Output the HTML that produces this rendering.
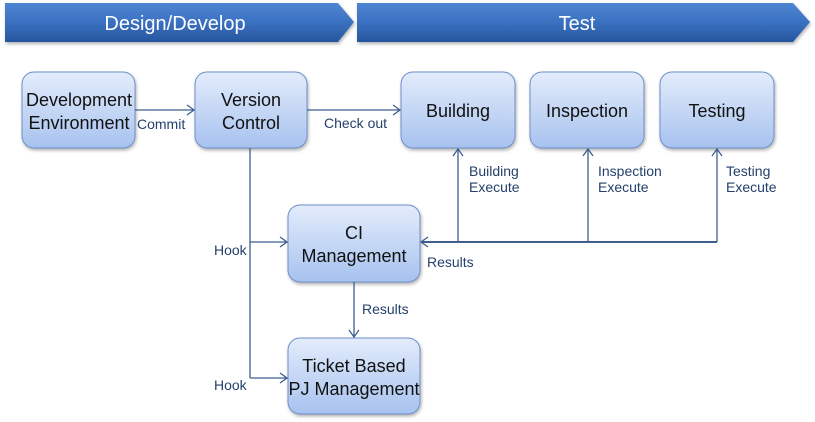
<!DOCTYPE html>
<html><head><meta charset="utf-8"><style>
html,body{margin:0;padding:0;background:#fff;width:815px;height:422px;overflow:hidden}
text{font-family:"Liberation Sans Narrow","Liberation Sans",sans-serif}
</style></head><body>
<svg width="815" height="422" viewBox="0 0 815 422" xmlns="http://www.w3.org/2000/svg">
<defs>
<linearGradient id="ban" x1="0" y1="0" x2="0" y2="1"><stop offset="0" stop-color="#4f86d2"/><stop offset="0.5" stop-color="#3a70c0"/><stop offset="1" stop-color="#26569e"/></linearGradient>
<linearGradient id="box" x1="0" y1="0" x2="0" y2="1"><stop offset="0" stop-color="#e3ecfb"/><stop offset="1" stop-color="#a7c2ef"/></linearGradient>
<filter id="sh" x="-10%" y="-10%" width="130%" height="130%"><feDropShadow dx="1" dy="2" stdDeviation="1.5" flood-color="#000" flood-opacity="0.3"/></filter>
</defs>
<polygon points="5,3 338,3 354,22 338,42 5,42" fill="url(#ban)" filter="url(#sh)"/>
<polygon points="357,3 793,3 810,22 793,42 357,42" fill="url(#ban)" filter="url(#sh)"/>
<text x="175" y="30" fill="#fff" font-size="20" text-anchor="middle">Design/Develop</text>
<text x="577" y="30" fill="#fff" font-size="20" text-anchor="middle">Test</text>
<g fill="url(#box)" stroke="#6f90c8" stroke-width="1" filter="url(#sh)">
<rect x="22" y="72" width="113" height="76" rx="12"/>
<rect x="195" y="72" width="112" height="76" rx="12"/>
<rect x="401" y="72" width="114" height="76" rx="12"/>
<rect x="530" y="72" width="114" height="76" rx="12"/>
<rect x="660" y="72" width="114" height="76" rx="12"/>
<rect x="288" y="205" width="132" height="77" rx="12"/>
<rect x="288" y="338" width="132" height="76" rx="12"/>
</g>
<g font-size="18" fill="#111" text-anchor="middle">
<text x="79" y="106">Development</text><text x="79" y="129">Environment</text>
<text x="251" y="106">Version</text><text x="251" y="129">Control</text>
<text x="458" y="117">Building</text>
<text x="587" y="117">Inspection</text>
<text x="717" y="117">Testing</text>
<text x="354" y="239">CI</text><text x="354" y="262">Management</text>
<text x="354" y="372">Ticket Based</text><text x="354" y="395">PJ Management</text>
</g>
<g stroke="#3f5f8e" stroke-width="1.3" fill="none">
<line x1="135" y1="110" x2="194" y2="110"/><polyline points="187,105 194,110 187,115"/>
<line x1="307" y1="110" x2="400" y2="110"/><polyline points="393,105 400,110 393,115"/>
<line x1="250" y1="148" x2="250" y2="378"/>
<line x1="250" y1="242" x2="287" y2="242"/><polyline points="280,237 287,242 280,247"/>
<line x1="250" y1="378" x2="287" y2="378"/><polyline points="280,373 287,378 280,383"/>
<line x1="354" y1="282" x2="354" y2="337"/><polyline points="349,330 354,337 359,330"/>
<line x1="421" y1="242" x2="717" y2="242" stroke-width="2"/><polyline points="428,237 421,242 428,247"/>
<line x1="458" y1="242" x2="458" y2="149"/><polyline points="453,156 458,149 463,156"/>
<line x1="588" y1="242" x2="588" y2="149"/><polyline points="583,156 588,149 593,156"/>
<line x1="717" y1="242" x2="717" y2="149"/><polyline points="712,156 717,149 722,156"/>
</g>
<g font-size="14" fill="#24416b">
<text x="137" y="129">Commit</text>
<text x="324" y="128">Check out</text>
<text x="214" y="255">Hook</text>
<text x="214" y="390">Hook</text>
<text x="362" y="314">Results</text>
<text x="427" y="267">Results</text>
<text x="469" y="176">Building</text><text x="469" y="192">Execute</text>
<text x="598" y="176">Inspection</text><text x="598" y="192">Execute</text>
<text x="726" y="176">Testing</text><text x="726" y="192">Execute</text>
</g>
</svg>
</body></html>
